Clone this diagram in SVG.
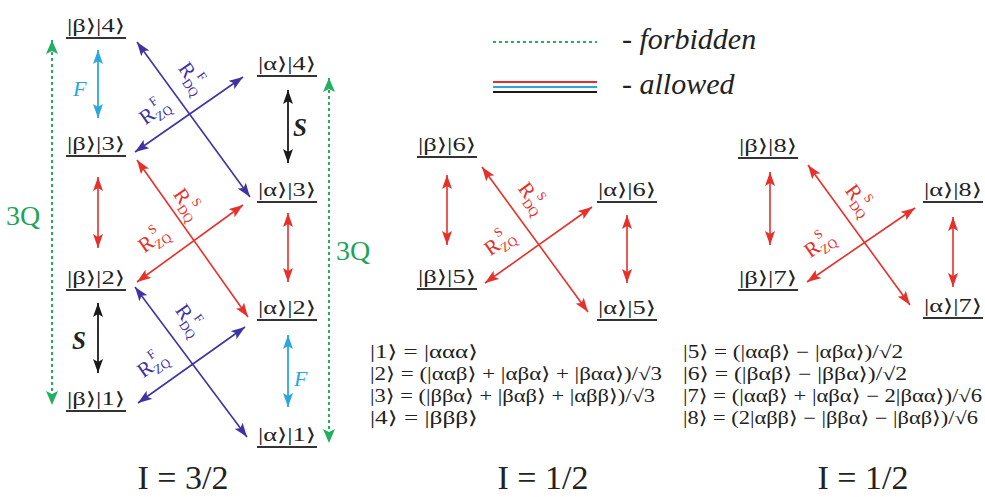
<svg xmlns="http://www.w3.org/2000/svg" width="985" height="497" viewBox="0 0 985 497">
<style>
text{font-family:"Liberation Serif","DejaVu Serif",serif;fill:#222}
.k{font-size:18px}
.ul{stroke:#333;stroke-width:2}
.eq{font-size:18px}
.ti{font-size:34px}
.lg{font-size:30px;font-style:italic}
.q3{font-size:28px;fill:#1fa35a}
.R{font-size:21px}
.sb{font-size:13px}
.b{stroke:#3f33a3;stroke-width:1.6;fill:none}
.r{stroke:#e8302a;stroke-width:1.6;fill:none}
.c{stroke:#2aa8de;stroke-width:1.8;fill:none}
.k2{stroke:#1a1a1a;stroke-width:1.8;fill:none}
.g{stroke:#22b060;stroke-width:2;stroke-dasharray:3 3;fill:none}
.tb{fill:#3f33a3}.tr{fill:#e8302a}.tc{fill:#2aa8de}
</style>
<defs>
<marker id="mb" viewBox="0 0 14 10" refX="14" refY="5" markerWidth="14" markerHeight="10" markerUnits="userSpaceOnUse" orient="auto-start-reverse"><path d="M0,0 L14,5 L0,10 L3,5 Z" fill="#3f33a3"/></marker>
<marker id="mr" viewBox="0 0 14 10" refX="14" refY="5" markerWidth="14" markerHeight="10" markerUnits="userSpaceOnUse" orient="auto-start-reverse"><path d="M0,0 L14,5 L0,10 L3,5 Z" fill="#e8302a"/></marker>
<marker id="mc" viewBox="0 0 14 10" refX="14" refY="5" markerWidth="14" markerHeight="10" markerUnits="userSpaceOnUse" orient="auto-start-reverse"><path d="M0,0 L14,5 L0,10 L3,5 Z" fill="#2aa8de"/></marker>
<marker id="mk" viewBox="0 0 14 10" refX="14" refY="5" markerWidth="14" markerHeight="10" markerUnits="userSpaceOnUse" orient="auto-start-reverse"><path d="M0,0 L14,5 L0,10 L3,5 Z" fill="#1a1a1a"/></marker>
<marker id="mg" viewBox="0 0 14 12" refX="14" refY="6" markerWidth="14" markerHeight="12" markerUnits="userSpaceOnUse" orient="auto-start-reverse"><path d="M0,0 L14,6 L0,12 L3,6 Z" fill="#22b060"/></marker>
</defs>
<rect width="985" height="497" fill="#fff"/>

<!-- Legend -->
<g id="legend">
<line x1="493" y1="42" x2="597" y2="42" class="g"/>
<text x="622" y="49" class="lg">- forbidden</text>
<line x1="493" y1="82" x2="597" y2="82" stroke="#e8302a" stroke-width="2"/>
<line x1="493" y1="87" x2="597" y2="87" stroke="#2aa8de" stroke-width="2"/>
<line x1="493" y1="92" x2="597" y2="92" stroke="#1a1a1a" stroke-width="2"/>
<text x="622" y="94" class="lg">- allowed</text>
</g>

<!-- Left diagram nodes -->
<g id="b4"><text x="67" y="32" class="k" textLength="58" lengthAdjust="spacingAndGlyphs">|β⟩|4⟩</text><line x1="66" y1="38" x2="126" y2="38" class="ul"/></g>
<g id="b3"><text x="67" y="150" class="k" textLength="58" lengthAdjust="spacingAndGlyphs">|β⟩|3⟩</text><line x1="66" y1="156" x2="126" y2="156" class="ul"/></g>
<g id="b2"><text x="67" y="284" class="k" textLength="58" lengthAdjust="spacingAndGlyphs">|β⟩|2⟩</text><line x1="66" y1="290" x2="126" y2="290" class="ul"/></g>
<g id="b1"><text x="67" y="405" class="k" textLength="58" lengthAdjust="spacingAndGlyphs">|β⟩|1⟩</text><line x1="66" y1="411" x2="126" y2="411" class="ul"/></g>
<g id="a4"><text x="258" y="70" class="k" textLength="58" lengthAdjust="spacingAndGlyphs">|α⟩|4⟩</text><line x1="257" y1="76" x2="317" y2="76" class="ul"/></g>
<g id="a3"><text x="258" y="196" class="k" textLength="58" lengthAdjust="spacingAndGlyphs">|α⟩|3⟩</text><line x1="257" y1="202" x2="317" y2="202" class="ul"/></g>
<g id="a2"><text x="258" y="314" class="k" textLength="58" lengthAdjust="spacingAndGlyphs">|α⟩|2⟩</text><line x1="257" y1="320" x2="317" y2="320" class="ul"/></g>
<g id="a1"><text x="258" y="441" class="k" textLength="58" lengthAdjust="spacingAndGlyphs">|α⟩|1⟩</text><line x1="257" y1="447" x2="317" y2="447" class="ul"/></g>

<!-- Middle diagram nodes -->
<g id="b6"><text x="418" y="151" class="k" textLength="58" lengthAdjust="spacingAndGlyphs">|β⟩|6⟩</text><line x1="417" y1="157" x2="477" y2="157" class="ul"/></g>
<g id="b5"><text x="418" y="283" class="k" textLength="58" lengthAdjust="spacingAndGlyphs">|β⟩|5⟩</text><line x1="417" y1="289" x2="477" y2="289" class="ul"/></g>
<g id="a6"><text x="598" y="196" class="k" textLength="58" lengthAdjust="spacingAndGlyphs">|α⟩|6⟩</text><line x1="597" y1="202" x2="657" y2="202" class="ul"/></g>
<g id="a5"><text x="598" y="314" class="k" textLength="58" lengthAdjust="spacingAndGlyphs">|α⟩|5⟩</text><line x1="597" y1="320" x2="657" y2="320" class="ul"/></g>

<!-- Right diagram nodes -->
<g id="b8"><text x="739" y="152" class="k" textLength="58" lengthAdjust="spacingAndGlyphs">|β⟩|8⟩</text><line x1="738" y1="158" x2="798" y2="158" class="ul"/></g>
<g id="b7"><text x="739" y="284" class="k" textLength="58" lengthAdjust="spacingAndGlyphs">|β⟩|7⟩</text><line x1="738" y1="290" x2="798" y2="290" class="ul"/></g>
<g id="a8"><text x="924" y="196" class="k" textLength="58" lengthAdjust="spacingAndGlyphs">|α⟩|8⟩</text><line x1="923" y1="202" x2="983" y2="202" class="ul"/></g>
<g id="a7"><text x="924" y="312" class="k" textLength="58" lengthAdjust="spacingAndGlyphs">|α⟩|7⟩</text><line x1="923" y1="318" x2="983" y2="318" class="ul"/></g>

<!-- Connectors -->
<g id="connectors">
<line x1="52" y1="40" x2="52" y2="405" class="g" marker-start="url(#mg)" marker-end="url(#mg)"/>
<line x1="329" y1="78" x2="329" y2="443" class="g" marker-start="url(#mg)" marker-end="url(#mg)"/>
<line x1="98" y1="50" x2="98" y2="118" class="c" marker-start="url(#mc)" marker-end="url(#mc)"/>
<line x1="288" y1="90" x2="288" y2="163" class="k2" marker-start="url(#mk)" marker-end="url(#mk)"/>
<line x1="98" y1="177" x2="98" y2="248" class="r" marker-start="url(#mr)" marker-end="url(#mr)"/>
<line x1="288" y1="213" x2="288" y2="282" class="r" marker-start="url(#mr)" marker-end="url(#mr)"/>
<line x1="98" y1="303" x2="98" y2="373" class="k2" marker-start="url(#mk)" marker-end="url(#mk)"/>
<line x1="288" y1="335" x2="288" y2="407" class="c" marker-start="url(#mc)" marker-end="url(#mc)"/>
<line x1="137" y1="42" x2="250" y2="197" class="b" marker-start="url(#mb)" marker-end="url(#mb)"/>
<line x1="135" y1="152" x2="243" y2="77" class="b" marker-start="url(#mb)" marker-end="url(#mb)"/>
<line x1="137" y1="160" x2="248" y2="317" class="r" marker-start="url(#mr)" marker-end="url(#mr)"/>
<line x1="137" y1="282" x2="243" y2="205" class="r" marker-start="url(#mr)" marker-end="url(#mr)"/>
<line x1="135" y1="287" x2="247" y2="437" class="b" marker-start="url(#mb)" marker-end="url(#mb)"/>
<line x1="138" y1="403" x2="245" y2="327" class="b" marker-start="url(#mb)" marker-end="url(#mb)"/>
<line x1="447" y1="175" x2="447" y2="245" class="r" marker-start="url(#mr)" marker-end="url(#mr)"/>
<line x1="627" y1="215" x2="627" y2="283" class="r" marker-start="url(#mr)" marker-end="url(#mr)"/>
<line x1="482" y1="167" x2="588" y2="312" class="r" marker-start="url(#mr)" marker-end="url(#mr)"/>
<line x1="485" y1="283" x2="592" y2="207" class="r" marker-start="url(#mr)" marker-end="url(#mr)"/>
<line x1="770" y1="172" x2="770" y2="245" class="r" marker-start="url(#mr)" marker-end="url(#mr)"/>
<line x1="953" y1="217" x2="953" y2="287" class="r" marker-start="url(#mr)" marker-end="url(#mr)"/>
<line x1="808" y1="165" x2="910" y2="305" class="r" marker-start="url(#mr)" marker-end="url(#mr)"/>
<line x1="807" y1="282" x2="915" y2="208" class="r" marker-start="url(#mr)" marker-end="url(#mr)"/>
</g>

<!-- Connector labels -->
<g id="labels">
<text x="73" y="96" class="tc" style="font-size:22px;font-style:italic">F</text>
<text x="293" y="136" style="font-size:25px;font-style:italic;font-weight:bold">S</text>
<text x="72" y="349" style="font-size:25px;font-style:italic;font-weight:bold">S</text>
<text x="294" y="386" class="tc" style="font-size:22px;font-style:italic">F</text>
<text x="6" y="225" class="q3">3Q</text>
<text x="336" y="260" class="q3">3Q</text>

<g transform="translate(189,76) rotate(55)"><text x="-13" y="5" class="R tb">R</text><text x="1" y="10" class="sb tb">DQ</text><text x="4" y="-6" class="sb tb">F</text></g>
<g transform="translate(153,114) rotate(-35)"><text x="-13" y="5" class="R tb">R</text><text x="1" y="10" class="sb tb">ZQ</text><text x="4" y="-6" class="sb tb">F</text></g>
<g transform="translate(184,202) rotate(55)"><text x="-13" y="5" class="R tr">R</text><text x="1" y="10" class="sb tr">DQ</text><text x="4" y="-6" class="sb tr">S</text></g>
<g transform="translate(152,242) rotate(-35)"><text x="-13" y="5" class="R tr">R</text><text x="1" y="10" class="sb tr">ZQ</text><text x="4" y="-6" class="sb tr">S</text></g>
<g transform="translate(186,318) rotate(55)"><text x="-13" y="5" class="R tb">R</text><text x="1" y="10" class="sb tb">DQ</text><text x="4" y="-6" class="sb tb">F</text></g>
<g transform="translate(151,367) rotate(-35)"><text x="-13" y="5" class="R tb">R</text><text x="1" y="10" class="sb tb">ZQ</text><text x="4" y="-6" class="sb tb">F</text></g>
<g transform="translate(529,196) rotate(54)"><text x="-13" y="5" class="R tr">R</text><text x="1" y="10" class="sb tr">DQ</text><text x="4" y="-6" class="sb tr">S</text></g>
<g transform="translate(498,245) rotate(-35)"><text x="-13" y="5" class="R tr">R</text><text x="1" y="10" class="sb tr">ZQ</text><text x="4" y="-6" class="sb tr">S</text></g>
<g transform="translate(856,198) rotate(54)"><text x="-13" y="5" class="R tr">R</text><text x="1" y="10" class="sb tr">DQ</text><text x="4" y="-6" class="sb tr">S</text></g>
<g transform="translate(818,247) rotate(-35)"><text x="-13" y="5" class="R tr">R</text><text x="1" y="10" class="sb tr">ZQ</text><text x="4" y="-6" class="sb tr">S</text></g>
</g>

<!-- Equations -->
<g id="equations-left">
<text x="370" y="358" class="eq" textLength="108" lengthAdjust="spacingAndGlyphs">|1⟩ = |ααα⟩</text>
<text x="370" y="380" class="eq" textLength="292" lengthAdjust="spacingAndGlyphs">|2⟩ = (|ααβ⟩ + |αβα⟩ + |βαα⟩)/√3</text>
<text x="370" y="402" class="eq" textLength="285" lengthAdjust="spacingAndGlyphs">|3⟩ = (|ββα⟩ + |βαβ⟩ + |αββ⟩)/√3</text>
<text x="370" y="424" class="eq" textLength="108" lengthAdjust="spacingAndGlyphs">|4⟩ = |βββ⟩</text>
</g>
<g id="equations-right">
<text x="683" y="358" class="eq" textLength="220" lengthAdjust="spacingAndGlyphs">|5⟩ = (|ααβ⟩ − |αβα⟩)/√2</text>
<text x="683" y="380" class="eq" textLength="224" lengthAdjust="spacingAndGlyphs">|6⟩ = (|βαβ⟩ − |ββα⟩)/√2</text>
<text x="683" y="402" class="eq" textLength="299" lengthAdjust="spacingAndGlyphs">|7⟩ = (|ααβ⟩ + |αβα⟩ − 2|βαα⟩)/√6</text>
<text x="683" y="424" class="eq" textLength="295" lengthAdjust="spacingAndGlyphs">|8⟩ = (2|αββ⟩ − |ββα⟩ − |βαβ⟩)/√6</text>
</g>

<!-- Titles -->
<g id="titles">
<text x="183" y="489" class="ti" text-anchor="middle">I = 3/2</text>
<text x="543" y="489" class="ti" text-anchor="middle">I = 1/2</text>
<text x="863" y="489" class="ti" text-anchor="middle">I = 1/2</text>
</g>
</svg>
